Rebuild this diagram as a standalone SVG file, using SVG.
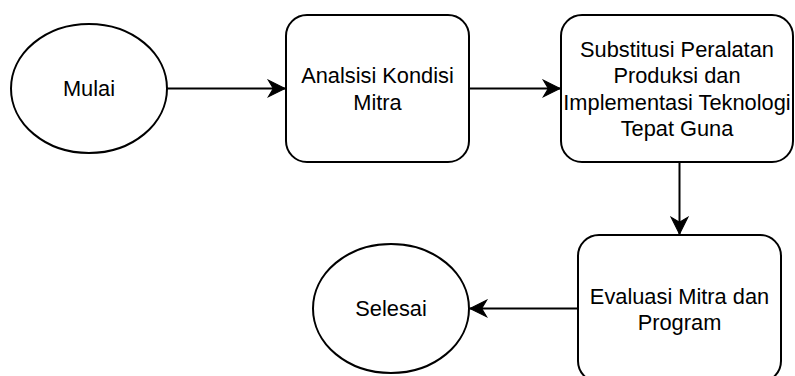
<svg xmlns="http://www.w3.org/2000/svg" width="795" height="376" viewBox="0 0 795 376">
  <style>
    .shape { fill: #ffffff; stroke: #000000; stroke-width: 2; }
    .edge { fill: none; stroke: #000000; stroke-width: 2; }
    .label { font-family: "Liberation Sans", Arial, sans-serif; font-size: 21.8px; fill: #000000; text-anchor: middle; }
  </style>
  <defs>
    <marker id="arrow" markerUnits="userSpaceOnUse" markerWidth="20" markerHeight="20" viewBox="-16 -9 17 18" refX="0" refY="0" orient="auto">
      <path d="M0,0 L-15,-7.5 L-10.5,0 L-15,7.5 Z" fill="#000000" stroke="#000000" stroke-width="1" stroke-linejoin="miter"/>
    </marker>
  </defs>
  <rect width="795" height="376" fill="#ffffff"/>
  <g id="connectors">
    <line class="edge" x1="167" y1="88.5" x2="285" y2="88.5" marker-end="url(#arrow)"/>
    <line class="edge" x1="469" y1="88.5" x2="560" y2="88.5" marker-end="url(#arrow)"/>
    <line class="edge" x1="679.5" y1="162" x2="679.5" y2="234" marker-end="url(#arrow)"/>
    <line class="edge" x1="578" y1="308.5" x2="470" y2="308.5" marker-end="url(#arrow)"/>
  </g>
  <g id="node-mulai">
    <ellipse class="shape" cx="89" cy="88.5" rx="78" ry="64.5"/>
    <text class="label" x="89" y="96.3">Mulai</text>
  </g>
  <g id="node-analisis">
    <rect class="shape" x="286" y="15" width="183" height="147" rx="21" ry="21"/>
    <text class="label" x="377.5" y="83">Analsisi Kondisi</text>
    <text class="label" x="377.5" y="109.5">Mitra</text>
  </g>
  <g id="node-substitusi">
    <rect class="shape" x="561" y="15" width="232" height="147" rx="21" ry="21"/>
    <text class="label" x="677" y="56.5">Substitusi Peralatan</text>
    <text class="label" x="677" y="83">Produksi dan</text>
    <text class="label" x="677" y="109.5">Implementasi Teknologi</text>
    <text class="label" x="677" y="136">Tepat Guna</text>
  </g>
  <g id="node-evaluasi">
    <rect class="shape" x="578" y="235" width="203" height="147" rx="21" ry="21"/>
    <text class="label" x="679.5" y="303.5">Evaluasi Mitra dan</text>
    <text class="label" x="679.5" y="330">Program</text>
  </g>
  <g id="node-selesai">
    <ellipse class="shape" cx="391" cy="308.5" rx="78" ry="64.5"/>
    <text class="label" x="391" y="316.3">Selesai</text>
  </g>
</svg>
